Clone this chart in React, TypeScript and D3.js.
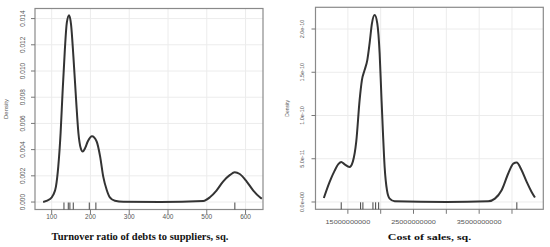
import React, { useEffect, useRef } from "react";
import * as d3 from "d3";

// left panel: turnover ratio of debts to suppliers
const turnoverX = [78, 96, 104, 111, 117, 123, 128, 134, 139, 145, 150, 156, 163, 169, 175, 180, 186, 193, 204, 216, 225, 233, 242, 250, 263, 285, 380, 491, 508, 525, 542, 560, 572, 585, 603, 620, 637, 642];
const turnoverY = [0.00001, 0.00023, 0.00054, 0.00117, 0.0027, 0.00525, 0.00831, 0.01163, 0.01367, 0.01425, 0.01354, 0.01112, 0.0078, 0.00525, 0.0041, 0.00385, 0.0041, 0.00462, 0.00502, 0.00462, 0.00347, 0.00194, 0.00092, 0.00036, 0.0001, 0.00002, 0, 0.00008, 0.00036, 0.00087, 0.00156, 0.00207, 0.00227, 0.00214, 0.00156, 0.00087, 0.00036, 0.00025];
const turnoverRug = [131.7, 142.8, 147, 155.7, 197, 214, 572.4];
const turnoverXTicks = [100, 200, 300, 400, 500, 600];
const turnoverYTicks = [0, 0.002, 0.004, 0.006, 0.008, 0.01, 0.012, 0.014];
const turnoverYLabels = ["0.000", "0.002", "0.004", "0.006", "0.008", "0.010", "0.012", "0.014"];

// right panel: cost of sales
const costX = [11.34e9, 12.21e9, 12.97e9, 13.58e9, 13.99e9, 14.5e9, 15.25e9, 15.77e9, 16.28e9, 16.79e9, 17.14e9, 17.55e9, 17.96e9, 18.31e9, 18.67e9, 19.08e9, 19.48e9, 19.84e9, 20.09e9, 20.35e9, 20.6e9, 20.96e9, 21.37e9, 22.13e9, 30e9, 36.38e9, 37.4e9, 38.42e9, 39.43e9, 40.2e9, 40.71e9, 41.47e9, 42.24e9, 42.99e9, 43.5e9];
const costY = [0.46e-11, 2.3e-11, 3.6e-11, 4.4e-11, 4.63e-11, 4.35e-11, 4.05e-11, 4.7e-11, 7.0e-11, 11.78e-11, 14.09e-11, 15.25e-11, 16.41e-11, 18.34e-11, 20.66e-11, 21.62e-11, 20.66e-11, 17.18e-11, 12.55e-11, 7.92e-11, 4.06e-11, 1.35e-11, 0.39e-11, 0.08e-11, 0, 0.08e-11, 0.39e-11, 1.35e-11, 3.29e-11, 4.44e-11, 4.56e-11, 3.67e-11, 2.32e-11, 1.16e-11, 0.51e-11];
const costRug = [13.99e9, 16.94e9, 17.29e9, 18.82e9, 19.23e9, 19.69e9, 40.74e9];
const costXTicks = [15e9, 20e9, 25e9, 30e9, 35e9, 40e9];
const costXLabels = ["15000000000", "", "25000000000", "", "35000000000", ""];
const costYTicks = [0, 5e-11, 1e-10, 1.5e-10, 2e-10];
const costYLabels = ["0.0e+00", "5.0e-11", "1.0e-10", "1.5e-10", "2.0e-10"];

function drawPanel(svg, p) {
    const g = svg.append("g");
    const x = d3.scaleLinear().domain(p.xDomain).range([p.left, p.right]);
    const y = d3.scaleLinear().domain(p.yDomain).range([p.bottom, p.top]);

    // grid
    g.selectAll(".vg").data(p.xTicks).join("line")
        .attr("x1", d => x(d)).attr("x2", d => x(d))
        .attr("y1", p.top).attr("y2", p.bottom)
        .attr("stroke", "#ececec").attr("stroke-width", 1);
    g.selectAll(".hg").data(p.yTicks).join("line")
        .attr("x1", p.left).attr("x2", p.right)
        .attr("y1", d => y(d)).attr("y2", d => y(d))
        .attr("stroke", "#ececec").attr("stroke-width", 1);

    // frame
    g.append("rect")
        .attr("x", p.left).attr("y", p.top)
        .attr("width", p.right - p.left).attr("height", p.bottom - p.top)
        .attr("fill", "none").attr("stroke", "#8a8a8a").attr("stroke-width", 1.2);

    // axes ticks
    g.append("g").selectAll("line").data(p.xTicks).join("line")
        .attr("x1", d => x(d)).attr("x2", d => x(d))
        .attr("y1", p.bottom).attr("y2", p.bottom + 4.5)
        .attr("stroke", "#777");
    g.append("g").selectAll("line").data(p.yTicks).join("line")
        .attr("x1", p.left - 4).attr("x2", p.left)
        .attr("y1", d => y(d)).attr("y2", d => y(d))
        .attr("stroke", "#777");

    g.append("g").selectAll("text").data(p.xTicks).join("text")
        .attr("transform", d => `translate(${x(d)},${p.xLabelY}) scale(${p.xLabelStretch},1)`)
        .attr("text-anchor", "middle")
        .attr("font-family", "Liberation Sans, Arial, sans-serif")
        .attr("font-size", p.labelSize)
        .attr("fill", "#555")
        .text((d, i) => p.xLabels[i]);

    g.append("g").selectAll("text").data(p.yTicks).join("text")
        .attr("transform", d => `translate(${p.yLabelX},${y(d)}) rotate(-90)`)
        .attr("text-anchor", "middle")
        .attr("font-family", "Liberation Sans, Arial, sans-serif")
        .attr("font-size", p.labelSize)
        .attr("fill", "#555")
        .text((d, i) => p.yLabels[i]);

    g.append("text")
        .attr("transform", `translate(${p.densityX},${(p.top + p.bottom) / 2}) rotate(-90)`)
        .attr("text-anchor", "middle")
        .attr("font-family", "Liberation Sans, Arial, sans-serif")
        .attr("font-size", p.labelSize - 0.5)
        .attr("fill", "#555")
        .text("Density");

    // rug
    g.append("g").selectAll("line").data(p.rug).join("line")
        .attr("x1", d => x(d)).attr("x2", d => x(d))
        .attr("y1", p.bottom).attr("y2", p.bottom - 7)
        .attr("stroke", "#444").attr("stroke-width", 1);

    // density curve
    const pts = p.xs.map((v, i) => [v, p.ys[i]]);
    const line = d3.line()
        .x(d => x(d[0]))
        .y(d => y(d[1]))
        .curve(d3.curveMonotoneX);
    g.append("path")
        .attr("d", line(pts))
        .attr("fill", "none")
        .attr("stroke", "#333")
        .attr("stroke-width", 2);

    // title
    g.append("text")
        .attr("transform", `translate(${p.titleX},240) scale(${p.xLabelStretch},1)`)
        .attr("text-anchor", "middle")
        .attr("font-family", "Liberation Serif, Times New Roman, serif")
        .attr("font-weight", "bold")
        .attr("font-size", p.titleSize)
        .attr("fill", "#111")
        .text(p.title);
}

export default function App() {
    const svgRef = useRef(null);

    useEffect(() => {
        const svg = d3.select(svgRef.current);
        svg.selectAll("*").remove();

        drawPanel(svg, {
            left: 35, right: 263, top: 8.5, bottom: 209.5,
            xDomain: [57, 645], yDomain: [-0.00057, 0.01477],
            xs: turnoverX, ys: turnoverY, rug: turnoverRug,
            xTicks: turnoverXTicks, xLabels: turnoverXTicks.map(String),
            yTicks: turnoverYTicks, yLabels: turnoverYLabels,
            labelSize: 6.5, xLabelY: 219, yLabelX: 24.5, densityX: 8, xLabelStretch: 1,
            title: "Turnover ratio of debts to suppliers, sq.", titleX: 140, titleSize: 10.5,
        });

        drawPanel(svg, {
            left: 315.5, right: 543.3, top: 7.3, bottom: 209.3,
            xDomain: [10.07e9, 44.77e9], yDomain: [-8.45e-12, 2.251e-10],
            xs: costX, ys: costY, rug: costRug,
            xTicks: costXTicks, xLabels: costXLabels,
            yTicks: costYTicks, yLabels: costYLabels,
            labelSize: 5.5, xLabelY: 224, yLabelX: 303.5, densityX: 289, xLabelStretch: 1.33,
            title: "Cost of sales, sq.", titleX: 429.5, titleSize: 9,
        });
    }, []);

    return (
        <svg ref={svgRef} width={550} height={247}
            style={{ position: "absolute", left: 0, top: 0, background: "#fff" }} />
    );
}
